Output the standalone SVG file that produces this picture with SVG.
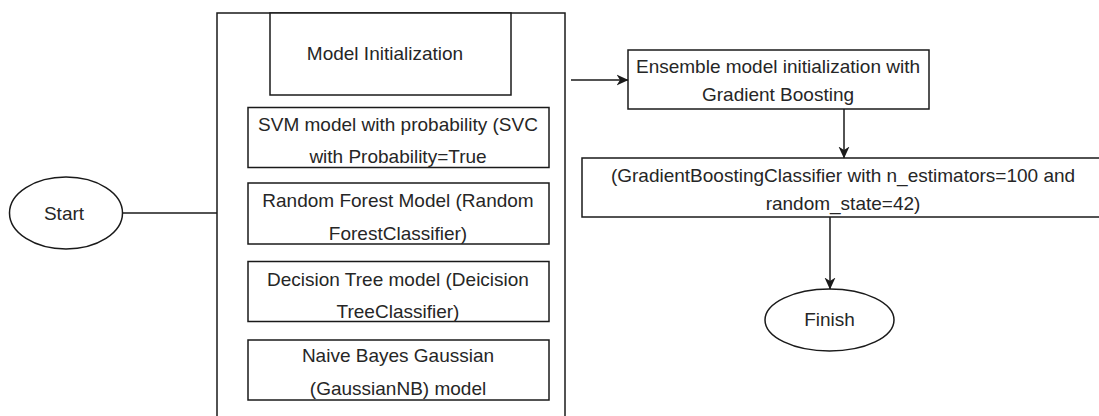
<svg xmlns="http://www.w3.org/2000/svg" width="1099" height="416" viewBox="0 0 1099 416">
<defs>
<style>
.b{fill:#fff;stroke:#1a1a1a;stroke-width:1.5}
.t{font-family:"Liberation Sans",Arial,sans-serif;font-size:19px;fill:#262626;text-anchor:middle}
.c{fill:none;stroke:#1a1a1a;stroke-width:1.5}
</style>
<marker id="ah" viewBox="0 0 12 12" refX="11.5" refY="6" markerWidth="12" markerHeight="12" markerUnits="userSpaceOnUse" orient="auto">
<path d="M0,0.5 L12,6 L0,11.5 L3.5,6 Z" fill="#1a1a1a"/>
</marker>
</defs>
<rect width="1099" height="416" fill="#fff"/>
<g id="container">
<rect class="b" x="217" y="13" width="348" height="420"/>
</g>
<g id="model-init">
<rect class="b" x="270" y="13" width="241" height="82"/>
<text class="t" x="385" y="60">Model Initialization</text>
</g>
<g id="svm">
<rect class="b" x="248" y="107.5" width="301" height="60"/>
<text class="t" x="398" y="131">SVM model with probability (SVC</text>
<text class="t" x="398" y="163">with Probability=True</text>
</g>
<g id="rf">
<rect class="b" x="248" y="183" width="301" height="61"/>
<text class="t" x="398" y="207">Random Forest Model (Random</text>
<text class="t" x="398" y="240">ForestClassifier)</text>
</g>
<g id="dt">
<rect class="b" x="248" y="261.5" width="301" height="60"/>
<text class="t" x="398" y="286">Decision Tree model (Deicision</text>
<text class="t" x="398" y="318">TreeClassifier)</text>
</g>
<g id="nb">
<rect class="b" x="248" y="340" width="301" height="60"/>
<text class="t" x="398" y="362">Naive Bayes Gaussian</text>
<text class="t" x="398" y="395">(GaussianNB) model</text>
</g>
<g id="start">
<ellipse class="b" cx="66" cy="213" rx="56.5" ry="36"/>
<text class="t" x="64" y="220">Start</text>
</g>
<g id="ensemble">
<rect class="b" x="628" y="50" width="301" height="59"/>
<text class="t" x="778" y="73">Ensemble model initialization with</text>
<text class="t" x="778" y="101">Gradient Boosting</text>
</g>
<g id="gbc">
<rect class="b" x="582" y="158" width="522" height="59"/>
<text class="t" x="843" y="182">(GradientBoostingClassifier with n_estimators=100 and</text>
<text class="t" x="843" y="210">random_state=42)</text>
</g>
<g id="finish">
<ellipse class="b" cx="829.5" cy="320" rx="64.5" ry="31"/>
<text class="t" x="829.5" y="326">Finish</text>
</g>
<g id="connectors">
<path class="c" d="M123,213 H217"/>
<path class="c" d="M571,80 H628" marker-end="url(#ah)"/>
<path class="c" d="M844,109 V158" marker-end="url(#ah)"/>
<path class="c" d="M830,217 V289" marker-end="url(#ah)"/>
</g>
</svg>
